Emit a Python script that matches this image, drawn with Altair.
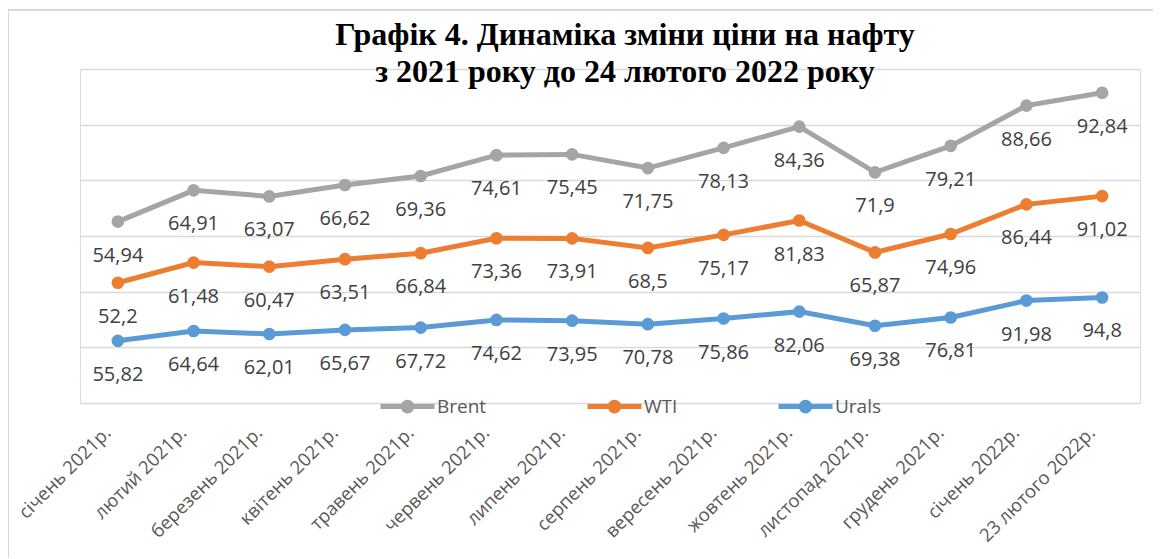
import altair as alt
import pandas as pd

months = ["січень 2021р.", "лютий 2021р.", "березень 2021р.", "квітень 2021р.",
          "травень 2021р.", "червень 2021р.", "липень 2021р.", "серпень 2021р.",
          "вересень 2021р.", "жовтень 2021р.", "листопад 2021р.", "грудень 2021р.",
          "січень 2022р.", "23 лютого 2022р."]
brent = [54.94, 64.91, 63.07, 66.62, 69.36, 74.61, 75.45, 71.75, 78.13, 84.36, 71.9, 79.21, 88.66, 92.84]
wti = [52.2, 61.48, 60.47, 63.51, 66.84, 73.36, 73.91, 68.5, 75.17, 81.83, 65.87, 74.96, 86.44, 91.02]
urals = [55.82, 64.64, 62.01, 65.67, 67.72, 74.62, 73.95, 70.78, 75.86, 82.06, 69.38, 76.81, 91.98, 94.8]

series_names = ["Brent", "WTI", "Urals"]
series_colors = ["#A5A5A5", "#ED7D31", "#5B9BD5"]

# Stacked line chart (Urals at bottom, then WTI, then Brent)
rows = []
for i, m in enumerate(months):
    base = 0.0
    for name, vals in [("Urals", urals), ("WTI", wti), ("Brent", brent)]:
        base += vals[i]
        rows.append({"month": m, "series": name, "value": vals[i], "cum": base})
df = pd.DataFrame(rows)

W, H = 1060, 334

x = alt.X("month:O", sort=months,
          scale=alt.Scale(paddingOuter=0.5),
          axis=alt.Axis(title=None, labelAngle=-45, labelFont="Open Sans", labelFontSize=18.5,
                        labelColor="#595959", domain=False, ticks=False, labelPadding=20,
                        labelOffset=-17, grid=False))
y = alt.Y("cum:Q", scale=alt.Scale(domain=[0, 300], nice=False),
          axis=alt.Axis(title=None, labels=False, ticks=False, domain=False,
                        values=[0, 50, 100, 150, 200, 250, 300],
                        gridColor="#D9D9D9", gridWidth=1.5))
color = alt.Color("series:N", scale=alt.Scale(domain=series_names, range=series_colors),
                  legend=alt.Legend(title=None, orient="none", direction="horizontal",
                                    legendX=298, legendY=308,
                                    symbolType="M-1,0H1M0.16,0A0.16,0.16,0,1,1,-0.16,0A0.16,0.16,0,1,1,0.16,0Z",
                                    symbolSize=2916, symbolStrokeWidth=5,
                                    labelFont="Open Sans", labelFontSize=19, labelColor="#595959",
                                    labelOffset=0, columnPadding=90))

base = alt.Chart(df)

border = base.mark_rect(fill=None, stroke="#D9D9D9", strokeWidth=1.5).encode(
    x=alt.value(-72), x2=alt.value(W + 40), y=alt.value(-59), y2=alt.value(H + 200)
)

lines = base.mark_line(strokeWidth=5).encode(x=x, y=y, color=color)
points = base.mark_point(filled=True, size=160, opacity=1).encode(x=x, y=y, color=color)
labels = base.mark_text(dy=34, font="Open Sans", fontSize=20, color="#404040").encode(
    x=x, y=y, text="label:N"
).transform_calculate(label="replace(toString(datum.value), '.', ',')")

chart = alt.layer(border, lines, points, labels).properties(
    width=W, height=H,
    title=alt.TitleParams(
        text=["Графік 4. Динаміка зміни ціни на нафту", "з 2021 року до 24 лютого 2022 року"],
        font="Liberation Serif", fontSize=32, fontWeight="bold", color="#000000",
        anchor="middle", dx=15, offset=-80, lineHeight=37),
    autosize=alt.AutoSizeParams(type="none"),
    padding={"left": 72, "top": 61, "right": 13, "bottom": 155},
).configure_view(stroke=None).configure(background="white")

chart.save("out.html", embed_options={"renderer": "svg", "actions": False})
